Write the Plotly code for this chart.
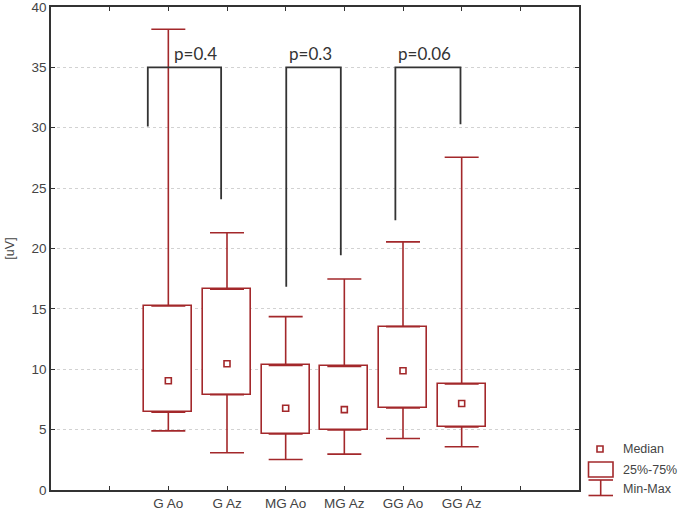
import plotly.graph_objects as go

# ---- data ----
categories = ["G Ao", "G Az", "MG Ao", "MG Az", "GG Ao", "GG Az"]
positions = [1, 2, 3, 4, 5, 6]
min_vals = [4.90, 3.09, 2.53, 2.97, 4.27, 3.58]
q1_vals = [6.44, 7.90, 4.65, 4.98, 6.80, 5.23]
median_vals = [9.05, 10.46, 6.77, 6.66, 9.88, 7.16]
q3_vals = [15.24, 16.62, 10.32, 10.24, 13.53, 8.78]
max_vals = [38.16, 21.30, 14.36, 17.47, 20.55, 27.56]

# significance brackets
p_labels = ["p=0.4", "p=0.3", "p=0.06"]
p_label_x = [1.47, 3.43, 5.37]
bracket_top = [35.0, 35.0, 35.0]
bracket_left_x = [0.65, 3.01, 4.87]
bracket_right_x = [1.90, 3.94, 5.98]
bracket_left_end = [30.1, 16.84, 22.34]
bracket_right_end = [24.07, 19.45, 30.3]

tick_vals = [0, 1, 2, 3, 4, 5, 6, 7]
tick_text = [""] + categories + [""]
y_ticks = [0, 5, 10, 15, 20, 25, 30, 35, 40]

RED = "#a3282b"
DARK = "#333333"
LW = 1.6

fig = go.Figure()

# boxes (25%-75%)
fig.add_trace(go.Bar(
    x=positions, base=q1_vals,
    y=[b - a for a, b in zip(q1_vals, q3_vals)],
    width=0.82,
    marker=dict(color="white", line=dict(color=RED, width=LW)),
    showlegend=False, hoverinfo="skip",
))

# upper whiskers
fig.add_trace(go.Scatter(
    x=positions, y=q3_vals, mode="markers",
    marker=dict(size=0.1, color=RED, opacity=0),
    error_y=dict(type="data", symmetric=False,
                 array=[m - q for m, q in zip(max_vals, q3_vals)],
                 arrayminus=[0] * len(q3_vals),
                 color=RED, thickness=LW, width=17),
    showlegend=False, hoverinfo="skip",
))
# lower whiskers
fig.add_trace(go.Scatter(
    x=positions, y=q1_vals, mode="markers",
    marker=dict(size=0.1, color=RED, opacity=0),
    error_y=dict(type="data", symmetric=False,
                 array=[0] * len(q1_vals),
                 arrayminus=[q - m for m, q in zip(min_vals, q1_vals)],
                 color=RED, thickness=LW, width=17),
    showlegend=False, hoverinfo="skip",
))
# medians
fig.add_trace(go.Scatter(
    x=positions, y=median_vals, mode="markers",
    marker=dict(symbol="square-open", size=6, color=RED, line=dict(width=1.6, color=RED)),
    showlegend=False,
))

# brackets
for lx, rx, top, le, re_ in zip(bracket_left_x, bracket_right_x, bracket_top,
                                bracket_left_end, bracket_right_end):
    fig.add_trace(go.Scatter(
        x=[lx, lx, rx, rx], y=[le, top, top, re_], mode="lines",
        line=dict(color=DARK, width=1.8),
        showlegend=False, hoverinfo="skip",
    ))

annotations = []
for txt, x, top in zip(p_labels, p_label_x, bracket_top):
    annotations.append(dict(x=x, y=top, xref="x", yref="y", text=txt, showarrow=False,
                            yanchor="bottom", yshift=1,
                            font=dict(family="Lato", size=17, color=DARK)))

# ---- manual legend (pixel -> paper helper) ----
L, R, T, B = 51, 109, 7, 22
W = 688 - L - R
H = 512 - T - B


def px(x):
    return (x - L) / W


def py(y):
    return (512 - B - y) / H


shapes = []
# median square
shapes.append(dict(type="rect", xref="paper", yref="paper",
                   x0=px(597), x1=px(603), y0=py(452), y1=py(446),
                   line=dict(color=RED, width=1.6), fillcolor="white"))
# box symbol
shapes.append(dict(type="rect", xref="paper", yref="paper",
                   x0=px(588.5), x1=px(613), y0=py(477), y1=py(462),
                   line=dict(color=RED, width=1.6), fillcolor="white"))
# min-max symbol
shapes.append(dict(type="line", xref="paper", yref="paper",
                   x0=px(588.5), x1=px(613), y0=py(480), y1=py(480),
                   line=dict(color=RED, width=1.6)))
shapes.append(dict(type="line", xref="paper", yref="paper",
                   x0=px(600.7), x1=px(600.7), y0=py(480), y1=py(495.5),
                   line=dict(color=RED, width=1.6)))
shapes.append(dict(type="line", xref="paper", yref="paper",
                   x0=px(588.5), x1=px(613), y0=py(495.5), y1=py(495.5),
                   line=dict(color=RED, width=1.6)))

for txt, yy in [("Median", 449), ("25%-75%", 470), ("Min-Max", 489)]:
    annotations.append(dict(x=px(621), y=py(yy), xref="paper", yref="paper", text=txt,
                            showarrow=False, xanchor="left", yanchor="middle",
                            font=dict(family="Liberation Sans, Arial", size=12.5, color="#444444")))

fig.update_layout(
    width=688, height=512,
    margin=dict(l=L, r=R, t=T, b=B, autoexpand=False),
    paper_bgcolor="white", plot_bgcolor="white",
    bargap=0,
    font=dict(family="Liberation Sans, Arial", size=12, color="#444444"),
    annotations=annotations,
    shapes=shapes,
    showlegend=False,
)
fig.update_xaxes(
    range=[-1, 8], tickmode="array", tickvals=tick_vals, ticktext=tick_text,
    showgrid=False, zeroline=False, automargin=False,
    showline=True, linecolor=DARK, linewidth=1.5, mirror="ticks",
    ticks="inside", ticklen=4, tickcolor=DARK, tickwidth=1.2,
    tickfont=dict(size=13.5, color="#444444"),
)
fig.update_yaxes(
    range=[0, 40], tickmode="array", tickvals=y_ticks,
    showgrid=True, gridcolor="#d2d2d2", griddash="dot", gridwidth=1,
    zeroline=False, automargin=False, ticklabeloverflow="allow",
    showline=True, linecolor=DARK, linewidth=1.5, mirror="ticks",
    ticks="inside", ticklen=4, tickcolor=DARK, tickwidth=1.2,
    tickfont=dict(size=13.5, color="#444444"),
    title=dict(text="[uV]", standoff=14, font=dict(size=12.5, color="#444444")),
)

fig.write_html(
    "out.html",
    config={"displayModeBar": False},
    post_script="document.body.style.margin='0';document.body.style.overflow='hidden';",
)
